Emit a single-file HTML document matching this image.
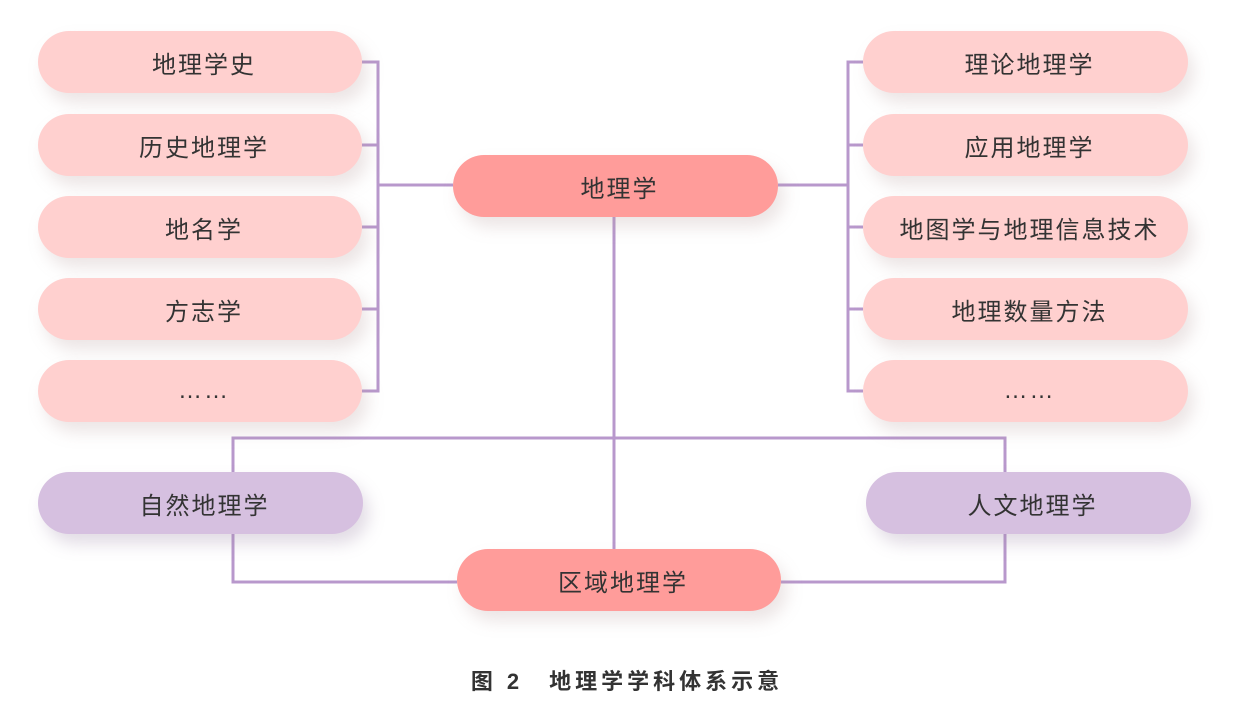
<!DOCTYPE html>
<html><head><meta charset="utf-8"><style>
body{margin:0;width:1246px;height:710px;background:#fff;position:relative;overflow:hidden;font-family:"Liberation Sans","Noto Sans CJK SC",sans-serif}
.p{position:absolute;height:62px;border-radius:31px;display:flex;align-items:center;justify-content:center;font-size:24px;color:#333;letter-spacing:2px;padding-left:8px;box-sizing:border-box;box-shadow:6px 10px 16px rgba(180,150,150,0.25)}
.l{background:#ffd0cf}.c{background:#ff9c9a}.v{background:#d6c0e0;box-shadow:6px 10px 16px rgba(160,140,170,0.3)}
.cap{position:absolute;top:664px;left:0;width:1254px;text-align:center;font-size:22px;font-weight:bold;color:#333;letter-spacing:4px}
svg{position:absolute;left:0;top:0}
</style></head><body>
<svg width="1246" height="710"><g stroke="#b898cc" stroke-width="3" fill="none">
<path d="M362 62H378V391H362M362 145H378M362 227H378M362 309H378M378 185H453"/>
<path d="M863 62H848V391H863M863 145H848M863 227H848M863 309H848M848 185H778"/>
<path d="M614 216V549M233 472V438H1005V472M233 533V582H457M1005 533V582H781"/>
</g></svg>
<div class="p l" style="left:38px;top:31px;width:324px">地理学史</div>
<div class="p l" style="left:38px;top:114px;width:324px">历史地理学</div>
<div class="p l" style="left:38px;top:196px;width:324px">地名学</div>
<div class="p l" style="left:38px;top:278px;width:324px">方志学</div>
<div class="p l" style="left:38px;top:360px;width:324px">……</div>
<div class="p l" style="left:863px;top:31px;width:325px">理论地理学</div>
<div class="p l" style="left:863px;top:114px;width:325px">应用地理学</div>
<div class="p l" style="left:863px;top:196px;width:325px">地图学与地理信息技术</div>
<div class="p l" style="left:863px;top:278px;width:325px">地理数量方法</div>
<div class="p l" style="left:863px;top:360px;width:325px">……</div>
<div class="p c" style="left:453px;top:155px;width:325px">地理学</div>
<div class="p v" style="left:38px;top:472px;width:325px">自然地理学</div>
<div class="p v" style="left:866px;top:472px;width:325px">人文地理学</div>
<div class="p c" style="left:457px;top:549px;width:324px">区域地理学</div>
<div class="cap">图 2　地理学学科体系示意</div>
</body></html>
